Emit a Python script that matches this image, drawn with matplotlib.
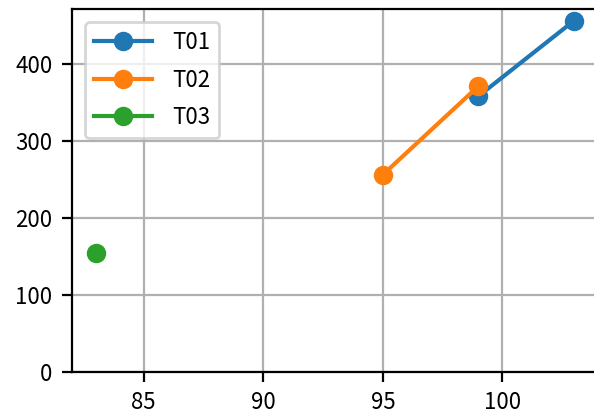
import matplotlib
matplotlib.use('Agg')
import matplotlib.pyplot as plt

plt.rcParams['font.family'] = ['Noto Sans CJK JP', 'DejaVu Sans']
plt.rcParams['font.size'] = 8

# series data
t01_x = [99, 103]
t01_y = [358, 456]
t02_x = [95, 99]
t02_y = [256, 371]
t03_x = [83]
t03_y = [154]
labels = ['T01', 'T02', 'T03']

fig = plt.figure(figsize=(594/200, 415/200), dpi=200)
# right spine falls just past the image edge, as in the reference
ax = fig.add_axes([72/594, 1-372/415, (598-72)/594, (372-9)/415])

ax.plot(t01_x, t01_y, marker='o', label=labels[0])
ax.plot(t02_x, t02_y, marker='o', label=labels[1])
ax.plot(t03_x, t03_y, marker='o', label=labels[2])

ax.set_ylim(bottom=0)
ax.set_xticks([85, 90, 95, 100])
ax.grid(True)
ax.legend(loc='upper left', labelspacing=0.65, handlelength=2.6,
          handletextpad=0.9, borderaxespad=0.6)

fig.savefig('out.png', dpi=200)
